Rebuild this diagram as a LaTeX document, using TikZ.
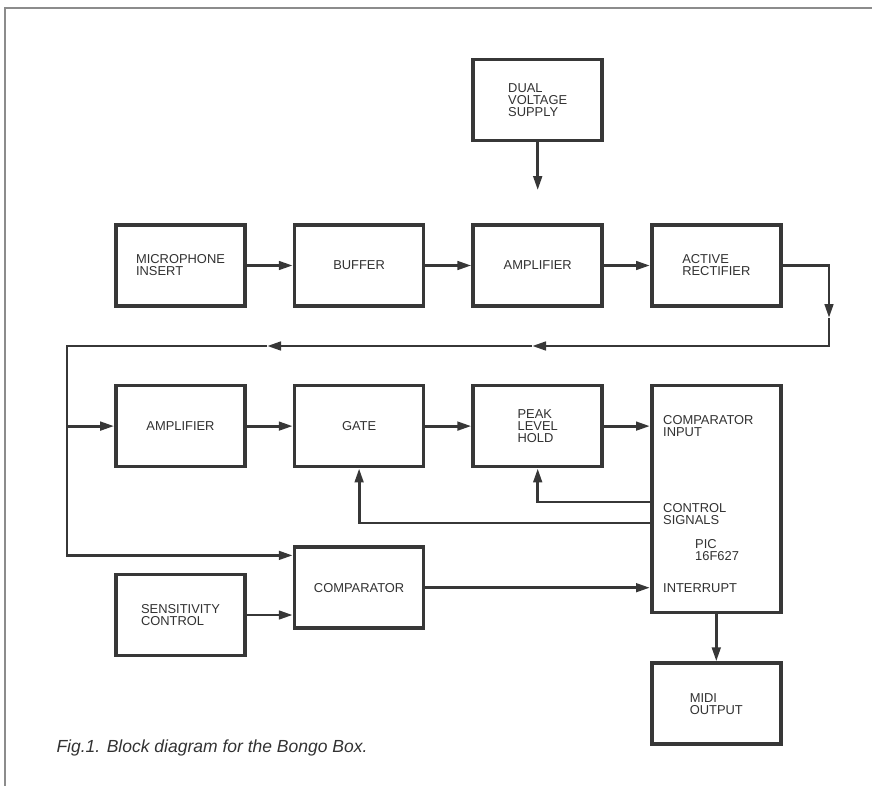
\documentclass[tikz,border=0pt]{standalone}
\usepackage{fontspec}
\setmainfont{Liberation Sans}
\usepackage{tikz}
\usetikzlibrary{arrows.meta,positioning,calc}
\definecolor{inkgray}{RGB}{55,55,55}
\definecolor{textgray}{RGB}{50,50,50}
\definecolor{framegray}{RGB}{140,140,140}
\tikzset{
  block/.style={rectangle, draw=inkgray, line width=3.6pt, fill=white,
                minimum width=129pt, minimum height=81pt, align=left,
                text=textgray, font=\fontsize{12.9}{12}\selectfont},
  pictext/.style={anchor=west, align=left, text=textgray, inner sep=0pt,
                  font=\fontsize{12.9}{12}\selectfont},
  conn/.style={-{Triangle[length=14pt, width=8.5pt]}, line width=2.9pt, inkgray},
}
\begin{document}
\begin{tikzpicture}[x=1pt, y=-1pt]
\useasboundingbox (0,0) rectangle (872,786);
% frame
\draw[framegray, line width=2pt] (5,786) -- (5,8) -- (872,8);

% top row
\node[block] (mic) at (180.5,265.5) {MICROPHONE\\INSERT};
\node[block, right=46pt of mic] (buffer) {BUFFER};
\node[block, right=46pt of buffer] (amp1) {AMPLIFIER};
\node[block, right=46pt of amp1] (rect) {ACTIVE\\RECTIFIER};
\node[block, above=81pt of amp1] (supply) {DUAL\\VOLTAGE\\SUPPLY};

% second row
\node[block, below=76pt of mic] (amp2) {AMPLIFIER};
\node[block, right=46pt of amp2] (gate) {GATE};
\node[block, right=46pt of gate] (peak) {PEAK\\LEVEL\\HOLD};
\node[block, minimum height=227pt, anchor=north west] (pic) at ([xshift=46pt]peak.north east) {};
\node[block, below=47pt of pic] (midi) {MIDI\\OUTPUT};

% bottom row
\node[block, below=77pt of gate] (comp) {COMPARATOR};
\node[block] (sens) at (180.5,615) {SENSITIVITY\\CONTROL};

% texts inside the PIC
\node[pictext] (cmpin) at ([xshift=13pt]pic.west |- peak) {COMPARATOR\\INPUT};
\node[pictext] (ctl) at ([xshift=13pt,yshift=-14.5pt]pic.west) {CONTROL\\SIGNALS};
\node[pictext] (chip) at ([xshift=45pt,yshift=-50.5pt]pic.west) {PIC\\16F627};
\node[pictext] (intr) at ([xshift=13pt]pic.west |- comp) {INTERRUPT};

% connection points
\coordinate (supplytip) at ([yshift=33pt]amp1.north);
\coordinate (fbdown) at (829,318);
\coordinate (fbmid) at (532,346);
\coordinate (fbleft) at (267,346);
\coordinate (fbcorner) at (67,346);
\coordinate (ctlA) at (pic.west |- 0,502);
\coordinate (ctlB) at (pic.west |- 0,523);

% signal path
\draw[conn] (supply.south) -- (supplytip);
\foreach \a/\b in {mic/buffer, buffer/amp1, amp1/rect, amp2/gate, gate/peak}
  \draw[conn] (\a) -- (\b);
\draw[conn] (rect.east) -| (fbdown);
\draw[conn] (fbdown) |- (fbmid);
\draw[conn] (fbmid) -- (fbleft);
\draw[conn] (fbleft) -- (fbcorner) |- ([yshift=-10pt]comp.north west);
\draw[conn] (fbcorner |- amp2) -- (amp2);
\draw[conn] (peak) -- (peak -| pic.west);
\draw[conn] (ctlA) -| (peak.south);
\draw[conn] (ctlB) -| (gate.south);
\draw[conn] (sens) -- (sens -| comp.west);
\draw[conn] (comp) -- (comp -| pic.west);
\draw[conn] (pic.south) -- (midi.north);

\node[anchor=base west, text=textgray, font=\fontsize{17.5}{20}\selectfont\itshape] (caption) at (53,752)
  {Fig.1. Block diagram for the Bongo Box.};
\end{tikzpicture}
\end{document}
